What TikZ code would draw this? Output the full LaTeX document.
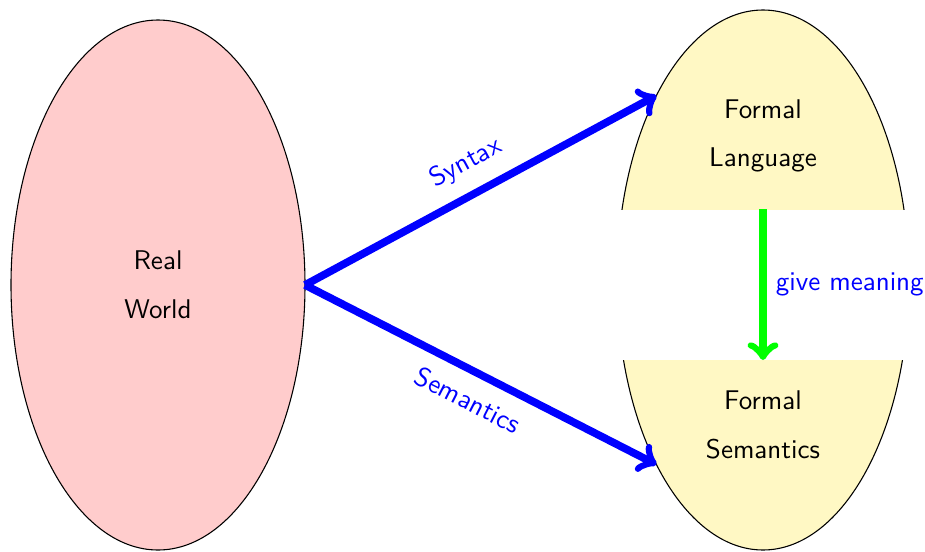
\documentclass[tikz,border=0pt]{standalone}
\usepackage{xcolor}
\usepackage{tikz}
\usetikzlibrary{shapes.geometric,positioning}
\definecolor{formalyellow}{RGB}{255,248,196}

\begin{document}
\begin{tikzpicture}[font=\sffamily,
  world/.style={ellipse, draw, fill=red!20, align=center, inner sep=0pt, outer sep=0pt},
  formalarea/.style={draw, fill=formalyellow},
  formaltext/.style={align=center},
  maparrow/.style={->, line width=1mm, blue},
  meaningarrow/.style={->, line width=1mm, green}]

\useasboundingbox (0,0) rectangle (12.025,7.163);

\node[world, minimum width=3.822cm, minimum height=6.89cm](RW) at (2.054,3.458){Real\\[6pt]World};

\node[ellipse, minimum width=3.796cm, minimum height=7.02cm, inner sep=0pt, outer sep=0pt](FE) at (9.919,3.523){};
\coordinate (cutT) at (9.919,4.446);
\coordinate (cutB) at (9.919,2.483);

\begin{scope}
\clip ([shift={(-2pt,2pt)}]FE.west |- FE.north) rectangle ([xshift=2pt]FE.east |- cutT);
\path[formalarea] (FE.center) ellipse [x radius=1.898cm, y radius=3.51cm];
\end{scope}
\begin{scope}
\clip ([shift={(-2pt,-2pt)}]FE.west |- FE.south) rectangle ([xshift=2pt]FE.east |- cutB);
\path[formalarea] (FE.center) ellipse [x radius=1.898cm, y radius=3.51cm];
\end{scope}

\node[formaltext](FL) at (9.919,5.395){Formal\\[6pt]Language};
\node[formaltext](FS) at (9.919,1.638){Formal\\[6pt]Semantics};

\draw[maparrow] (RW.east) -- node[above=2pt, sloped]{Syntax} (FE.120);
\draw[maparrow] (RW.east) -- node[below=2pt, sloped]{Semantics} (FE.240);
\draw[meaningarrow] (cutT) -- node[right, text=blue]{give meaning} (cutB);

\end{tikzpicture}
\end{document}
